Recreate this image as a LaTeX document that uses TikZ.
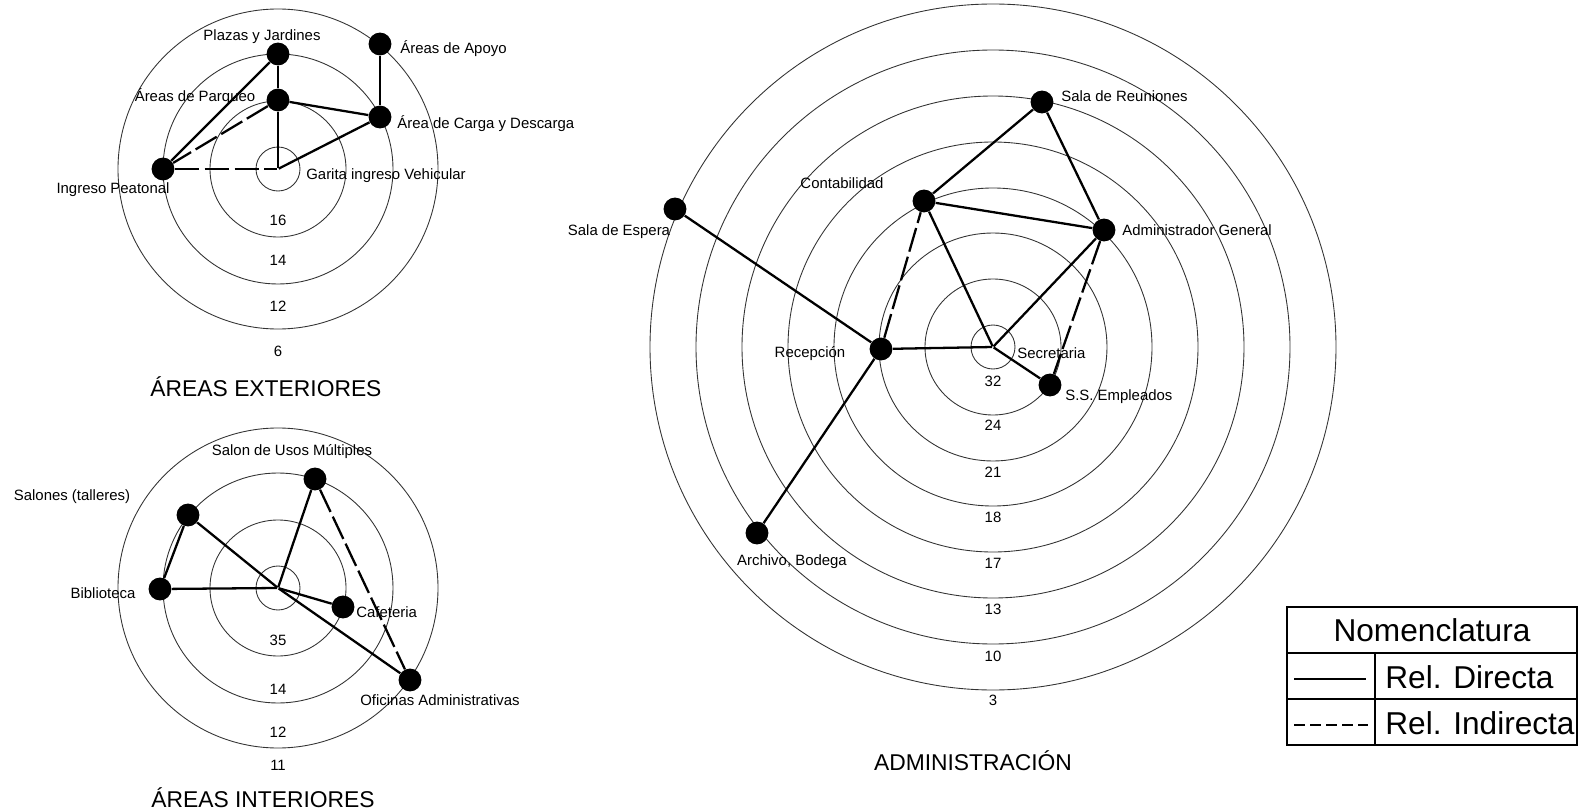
\documentclass[tikz,border=0pt]{standalone}
\usepackage{fontspec}
\setmainfont{Liberation Sans}
\tikzset{
  ring/.style={draw=black!80, line width=0.5pt},
  dot/.style={circle, fill=black, minimum size=13pt, inner sep=0pt},
  hub/.style={circle, inner sep=0pt, minimum size=0.5pt},
  conn/.style={line width=1.3pt},
  iconn/.style={line width=1.3pt, dash pattern=on 14pt off 3pt},
  lbl/.style={font=\fontsize{8.5}{10}\selectfont, inner sep=0pt},
  num/.style={font=\fontsize{8.5}{10}\selectfont, inner sep=0pt},
  ttl/.style={font=\fontsize{13}{15}\selectfont, inner sep=0pt},
  nom/.style={font=\fontsize{18}{20}\selectfont, inner sep=0pt},
  tbl/.style={line width=0.6pt},
}
\begin{document}
\begin{tikzpicture}[x=0.02cm,y=-0.02cm]
\useasboundingbox (0,0) rectangle (1583,811);
% ---- areas exteriores
\foreach \r in {22,68,115,160} \draw[ring] (278,169) circle[radius=\r*0.02cm];
\node[hub] (ge) at (278,169) {};
\node[dot] (pj) at (278,54) {};
\node[dot] (ap) at (278,100) {};
\node[dot] (ip) at (163,169) {};
\node[dot] (aa) at (380,44) {};
\node[dot] (cd) at (380,117) {};
\node[lbl] (pjl) at (262,37) {Plazas y Jardines};
\node[lbl] (apl) at (195,97) {Áreas de Parqueo};
\node[lbl] (ipl) at (113,190) {Ingreso Peatonal};
\node[lbl, anchor=west] (aal) at (400,49) {Áreas de Apoyo};
\node[lbl, anchor=west] (cdl) at (397,124) {Área de Carga y Descarga};
\node[lbl, anchor=west] (gel) at (306,176) {Garita ingreso Vehicular};
\foreach \v/\y in {16/220,14/260,12/306,6/351} \node[num] (ne\v) at (278,\y) {\v};
\node[ttl] (tae) at (266,387) {ÁREAS EXTERIORES};
\draw[conn] (pj) -- (ap); \draw[conn] (ap) -- (ge); \draw[conn] (pj) -- (ip);
\draw[iconn] (ap) -- (ip); \draw[iconn] (ip) -- (ge);
\draw[conn] (ap) -- (cd); \draw[conn] (ge) -- (cd); \draw[conn] (aa) -- (cd);
% ---- areas interiores
\foreach \r in {22,68,115,160} \draw[ring] (278,588) circle[radius=\r*0.02cm];
\node[hub] (gi) at (278,588) {};
\node[dot] (sum) at (315,479) {};
\node[dot] (sal) at (188,515) {};
\node[dot] (bib) at (160,589) {};
\node[dot] (caf) at (343,607) {};
\node[dot] (ofa) at (410,680) {};
\node[lbl] (suml) at (292,452) {Salon de Usos Múltiples};
\node[lbl] (sall) at (72,497) {Salones (talleres)};
\node[lbl] (bibl) at (103,593) {Biblioteca};
\node[lbl, anchor=west] (cafl) at (356,612) {Cafeteria};
\node[lbl, anchor=west] (ofal) at (360,700) {Oficinas Administrativas};
\foreach \v/\y in {35/640,14/689,12/732,11/765} \node[num] (ni\v) at (278,\y) {\v};
\node[ttl] (tai) at (263,798) {ÁREAS INTERIORES};
\draw[conn] (sal) -- (bib); \draw[conn] (sal) -- (gi); \draw[conn] (bib) -- (gi);
\draw[conn] (sum) -- (gi); \draw[iconn] (sum) -- (ofa);
\draw[conn] (gi) -- (caf); \draw[conn] (gi) -- (ofa);
% ---- administracion
\foreach \r in {22,68,114,159,205,251,297,343} \draw[ring] (993,347) circle[radius=\r*0.02cm];
\node[hub] (sec) at (993,347) {};
\node[dot] (rec) at (881,349) {};
\node[dot] (sde) at (675,209) {};
\node[dot] (con) at (924,201) {};
\node[dot] (sdr) at (1042,102) {};
\node[dot] (adg) at (1104,230) {};
\node[dot] (sse) at (1050,385) {};
\node[dot] (arc) at (757,533) {};
\node[lbl] (recl) at (810,354) {Recepción};
\node[lbl] (sdel) at (619,232) {Sala de Espera};
\node[lbl] (conl) at (842,183) {Contabilidad};
\node[lbl, anchor=west] (sdrl) at (1061,96) {Sala de Reuniones};
\node[lbl, anchor=west] (adgl) at (1122,230) {Administrador General};
\node[lbl, anchor=west] (ssel) at (1065,397) {S.S. Empleados};
\node[lbl] (arcl) at (792,562) {Archivo, Bodega};
\node[lbl, anchor=west] (secl) at (1017,353) {Secretaria};
\foreach \v/\y in {32/381,24/425,21/472,18/517,17/563,13/609,10/656,3/700} \node[num] (na\v) at (993,\y) {\v};
\node[ttl] (tad) at (973,761) {ADMINISTRACIÓN};
\draw[conn] (sde) -- (rec); \draw[conn] (rec) -- (arc); \draw[conn] (rec) -- (sec);
\draw[iconn] (rec) -- (con); \draw[conn] (con) -- (sec); \draw[conn] (con) -- (sdr);
\draw[conn] (con) -- (adg); \draw[conn] (sdr) -- (adg); \draw[conn] (adg) -- (sec);
\draw[iconn] (adg) -- (sse); \draw[conn] (sec) -- (sse);
% ---- nomenclatura
\draw[tbl] (1287,607) rectangle (1577,745);
\draw[tbl] (1287,653) -- (1577,653); \draw[tbl] (1287,699) -- (1577,699);
\draw[tbl] (1375,653) -- (1375,745);
\node[nom] (nom) at (1432,630) {Nomenclatura};
\node[nom, anchor=west] (rd) at (1385,677) {Rel. Directa};
\node[nom, anchor=west] (ri) at (1385,723) {Rel. Indirecta};
\draw[line width=0.8pt] (1294,679) -- (1366,679);
\draw[line width=0.8pt, dash pattern=on 6.3pt off 2.85pt] (1294,725) -- (1368,725);
\end{tikzpicture}
\end{document}
